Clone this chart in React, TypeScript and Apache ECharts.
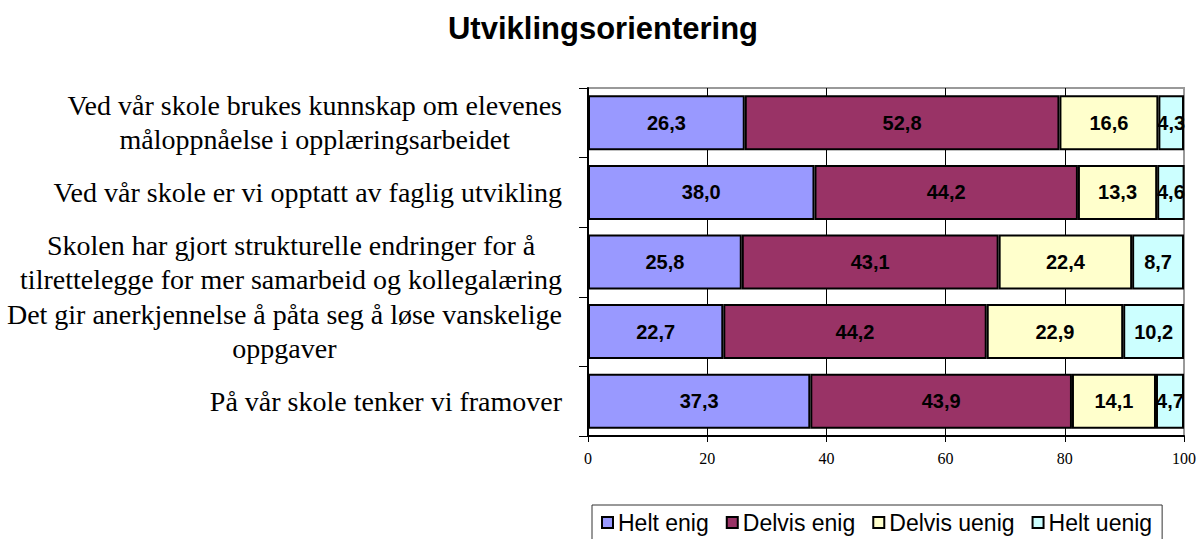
import React, { useEffect, useRef } from "react";
import * as echarts from "echarts";

const title = "Utviklingsorientering";
const categories = [
  "Ved vår skole brukes kunnskap om elevenes\nmåloppnåelse i opplæringsarbeidet",
  "Ved vår skole er vi opptatt av faglig utvikling",
  "Skolen har gjort strukturelle endringer for å\ntilrettelegge for mer samarbeid og kollegalæring",
  "Det gir anerkjennelse å påta seg å løse vanskelige\noppgaver",
  "På vår skole tenker vi framover",
];
const seriesNames = ["Helt enig", "Delvis enig", "Delvis uenig", "Helt uenig"];
const heltEnig = [26.3, 38.0, 25.8, 22.7, 37.3];
const delvisEnig = [52.8, 44.2, 43.1, 44.2, 43.9];
const delvisUenig = [16.6, 13.3, 22.4, 22.9, 14.1];
const heltUenig = [4.3, 4.6, 8.7, 10.2, 4.7];
const colors = ["#9999FF", "#993366", "#FFFFCC", "#CCFFFF"];
const xTicks = [0, 20, 40, 60, 80, 100];

const SERIF = "'Liberation Serif', 'Times New Roman', serif";
const SANS = "Arial, 'Liberation Sans', sans-serif";

export default function App() {
  const ref = useRef<HTMLDivElement>(null);
  useEffect(() => {
    const chart = echarts.init(ref.current!, null, { renderer: "svg" });
    const values = [heltEnig, delvisEnig, delvisUenig, heltUenig];
    chart.setOption({
      animation: false,
      backgroundColor: "#ffffff",
      title: {
        text: title,
        left: 598,
        textAlign: "center",
        top: 8,
        textStyle: {
          fontFamily: SANS,
          fontWeight: "bold",
          fontSize: 31,
          color: "#000",
        },
      },
      legend: {
        left: 592,
        top: 505,
        itemWidth: 11,
        itemHeight: 11,
        itemGap: 17,
        icon: "rect",
        padding: [6, 10, 14, 9],
        borderColor: "#333",
        borderWidth: 1,
        textStyle: {
          fontFamily: SANS,
          fontSize: 23,
          color: "#000",
        },
        data: seriesNames,
      },
      grid: {
        left: 588,
        right: 18,
        top: 88,
        height: 348,
        show: true,
        borderColor: "#999",
        borderWidth: 2,
        containLabel: false,
      },
      xAxis: {
        type: "value",
        min: 0,
        max: 100,
        interval: 20,
        axisLine: { show: true, lineStyle: { color: "#000", width: 2 } },
        axisTick: { show: true, length: 6, lineStyle: { color: "#000", width: 1 } },
        axisLabel: {
          fontFamily: SERIF,
          fontSize: 16,
          color: "#000",
          margin: 14,
          formatter: (v: number) => (xTicks.includes(v) ? String(v) : ""),
        },
        splitLine: {
          show: true,
          lineStyle: { color: ["transparent", "#000", "#000", "#000", "#000", "#999"], width: 1 },
        },
      },
      yAxis: {
        type: "category",
        inverse: true,
        data: categories,
        axisLine: { show: true, lineStyle: { color: "#000", width: 2 } },
        axisTick: { show: true, length: 9, lineStyle: { color: "#000", width: 1 } },
        axisLabel: {
          margin: 26,
          color: "#000",
          fontFamily: SERIF,
          fontSize: 28,
          lineHeight: 34,
          formatter: (v: string) =>
            v
              .split("\n")
              .map((l) => "{c|" + l + "}")
              .join("\n"),
          rich: {
            c: {
              align: "center",
              fontFamily: SERIF,
              fontSize: 28,
              lineHeight: 34,
              color: "#000",
            },
          },
        },
      },
      series: seriesNames.map((name, i) => ({
        name,
        type: "bar",
        stack: "total",
        barCategoryGap: "21%",
        data: values[i],
        itemStyle: { color: colors[i], borderColor: "#000", borderWidth: 2 },
        label: {
          show: true,
          position: "inside",
          fontFamily: SANS,
          fontWeight: "bold",
          fontSize: 20,
          color: "#000",
          formatter: (p: any) => p.value.toFixed(1).replace(".", ","),
        },
      })),
    });
    return () => chart.dispose();
  }, []);
  return <div ref={ref} style={{ width: 1202, height: 539, position: "absolute", left: 0, top: 0 }} />;
}
